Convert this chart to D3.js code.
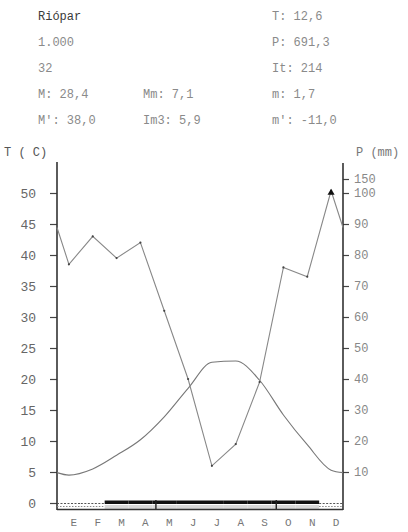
<!DOCTYPE html>
<html>
<head>
<meta charset="utf-8">
<script src="https://cdn.jsdelivr.net/npm/d3@7/dist/d3.min.js"></script>
<style>
  html, body { margin: 0; padding: 0; background: #fff; }
  svg { display: block; }
  .hdr { font-family: "Liberation Mono", "DejaVu Sans Mono", monospace; font-size: 12px; fill: #8a8a8a; }
  .hdr.name { fill: #3a3a3a; }
  .tick text { font-family: "Liberation Mono", "DejaVu Sans Mono", monospace; fill: #666; }
</style>
</head>
<body>
<svg id="chart" width="408" height="532"></svg>
<script>
// Climate diagram for Riópar (Walter–Lieth style)
const months = ["E", "F", "M", "A", "M", "J", "J", "A", "S", "O", "N", "D"];
const temperature = [4.5, 5.5, 7.7, 10.2, 13.9, 18.5, 22.7, 22.9, 19.8, 14.2, 9.4, 5.3]; // ºC
const precipitation = [77, 86, 79, 84, 62, 40, 12, 19, 39, 76, 73, 108];            // mm
const tempTicks = [0, 5, 10, 15, 20, 25, 30, 35, 40, 45, 50];
const precTicks = [10, 20, 30, 40, 50, 60, 70, 80, 90, 100, 150];
// frost band below the axis: 1 = dotted box, 2 = solid bar
const frostBand = [1, 1, 2, 2, 2, 2, 2, 2, 2, 2, 2, 1];
const frostMarks = [4.15, 9.2]; // month positions of the small marks in the band

const headerRows = [
  ["Riópar", "", "T: 12,6"],
  ["1.000", "", "P: 691,3"],
  ["32", "", "It: 214"],
  ["M: 28,4", "Mm: 7,1", "m: 1,7"],
  ["M': 38,0", "Im3: 5,9", "m': -11,0"]
];

const svg = d3.select("#chart");

// scales
const x = d3.scaleLinear().domain([0, 12]).range([57, 343]);
const yT = d3.scaleLinear().domain([0, 50]).range([503, 193]);
// precipitation: 2 mm per ºC up to 100 mm, compressed above
const yP = d3.scaleLinear().domain([0, 100, 150]).range([503, 193, 179]);

// header block
const colX = [38, 143, 272];
headerRows.forEach((row, r) => {
  row.forEach((txt, c) => {
    if (!txt) return;
    svg.append("text")
      .attr("class", "hdr" + (r === 0 && c === 0 ? " name" : ""))
      .attr("x", colX[c])
      .attr("y", 20 + r * 26)
      .text(txt);
  });
});

// axis titles
svg.append("text").attr("class", "hdr").attr("x", 4).attr("y", 156).style("fill", "#555").text("T ( C)");
svg.append("text").attr("class", "hdr").attr("x", 356).attr("y", 156).style("fill", "#777").text("P (mm)");

// left temperature axis
const axL = svg.append("g").attr("transform", `translate(${x(0)},0)`)
  .call(d3.axisLeft(yT).tickValues(tempTicks).tickSize(7).tickPadding(14).tickFormat(d3.format("d")));
axL.select(".domain").remove();
axL.selectAll(".tick line").attr("stroke", "#444").attr("stroke-width", 1.2);
axL.selectAll(".tick text").style("font-size", "13px");

// right precipitation axis
const axR = svg.append("g").attr("transform", `translate(${x(12)},0)`)
  .call(d3.axisRight(yP).tickValues(precTicks).tickSize(6).tickPadding(5).tickFormat(d3.format("d")));
axR.select(".domain").remove();
axR.selectAll(".tick line").attr("stroke", "#444").attr("stroke-width", 1.2);
axR.selectAll(".tick text").style("font-size", "12px").style("fill", "#888");

// axis lines
svg.append("line").attr("x1", x(0)).attr("x2", x(0)).attr("y1", 162).attr("y2", 510)
  .attr("stroke", "#333").attr("stroke-width", 1.6);
svg.append("line").attr("x1", x(12)).attr("x2", x(12)).attr("y1", 163).attr("y2", 510)
  .attr("stroke", "#333").attr("stroke-width", 1.6);

// frost band
const band = svg.append("g");
frostBand.forEach((code, i) => {
  if (code === 2) {
    band.append("rect").attr("x", x(i)).attr("y", 505).attr("width", x(i + 1) - x(i)).attr("height", 4)
      .attr("fill", "#d8d8d8");
    band.append("rect").attr("x", x(i)).attr("y", 500.5).attr("width", x(i + 1) - x(i)).attr("height", 3.5)
      .attr("fill", "#111");
  } else {
    band.append("line").attr("x1", x(i)).attr("x2", x(i + 1)).attr("y1", 503.5).attr("y2", 503.5)
      .attr("stroke", "#555").attr("stroke-width", 1).attr("stroke-dasharray", "2,1.5");
    band.append("line").attr("x1", x(i)).attr("x2", x(i + 1)).attr("y1", 506.5).attr("y2", 506.5)
      .attr("stroke", "#888").attr("stroke-width", 1).attr("stroke-dasharray", "1.5,1.5");
  }
});
frostMarks.forEach(m => {
  band.append("line").attr("x1", x(m)).attr("x2", x(m)).attr("y1", 500).attr("y2", 510)
    .attr("stroke", "#222").attr("stroke-width", 1.4);
});
svg.append("line").attr("x1", x(0)).attr("x2", x(12)).attr("y1", 509.5).attr("y2", 509.5)
  .attr("stroke", "#333").attr("stroke-width", 1.6);

// month labels
svg.append("g").selectAll("text").data(months).join("text")
  .attr("class", "hdr")
  .attr("x", (d, i) => x(i + 0.5) + 5)
  .attr("y", 526)
  .attr("text-anchor", "middle")
  .style("font-size", "11px")
  .style("fill", "#777")
  .text(d => d);

// curves: monthly points at mid-month, closed at both edges with the Dec–Jan mean
function withEdges(values, scale) {
  const pts = values.map((v, i) => [x(i + 0.5), scale(v)]);
  const edgeY = (scale(values[0]) + scale(values[values.length - 1])) / 2;
  return [[x(0), edgeY], ...pts, [x(12), edgeY]];
}

svg.append("path")
  .attr("d", d3.line().curve(d3.curveMonotoneX)(withEdges(temperature, yT)))
  .attr("fill", "none").attr("stroke", "#777").attr("stroke-width", 1.1);

const precPts = withEdges(precipitation, yP);
svg.append("path")
  .attr("d", d3.line()(precPts))
  .attr("fill", "none").attr("stroke", "#888").attr("stroke-width", 1.1);
svg.append("g").selectAll("circle").data(precPts.slice(1, -1)).join("circle")
  .attr("cx", d => d[0]).attr("cy", d => d[1]).attr("r", 1.1).attr("fill", "#444");

// marker on months above 100 mm
precipitation.forEach((v, i) => {
  if (v > 100) {
    const cx = x(i + 0.5), cy = yP(v);
    svg.append("path")
      .attr("d", d3.symbol(d3.symbolTriangle, 22)())
      .attr("transform", `translate(${cx},${cy + 2})`)
      .attr("fill", "#111");
  }
});
</script>
</body>
</html>
